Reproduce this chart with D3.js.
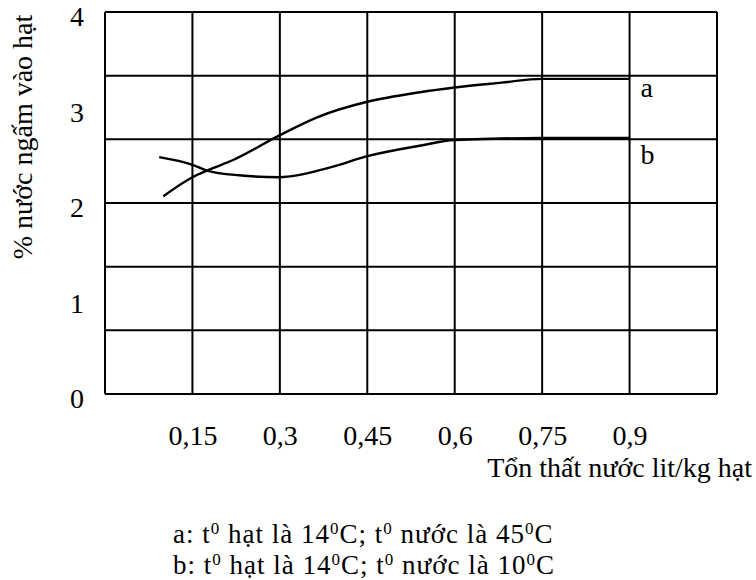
<!DOCTYPE html>
<html>
<head>
<meta charset="utf-8">
<script src="https://cdn.jsdelivr.net/npm/d3@7"></script>
<style>
  html, body { margin: 0; padding: 0; background: #fff; }
  svg { display: block; }
  text { font-family: "Liberation Serif", "Times New Roman", serif; fill: #000; }
</style>
</head>
<body>
<svg id="chart" width="756" height="580"></svg>
<script>
// ---- data ----
const xTicks = [0.15, 0.3, 0.45, 0.6, 0.75, 0.9];
const xTickLabels = ["0,15", "0,3", "0,45", "0,6", "0,75", "0,9"];
const xGrid = [0, 0.15, 0.3, 0.45, 0.6, 0.75, 0.9, 1.05];
const yTicks = [0, 1, 2, 3, 4];
const yGrid = [0, 2/3, 4/3, 2, 8/3, 10/3, 4];

const seriesAx = [0.10, 0.15, 0.175, 0.22, 0.30, 0.365, 0.45, 0.54, 0.60, 0.68, 0.75, 0.90];
const seriesAy = [2.07, 2.27, 2.34, 2.45, 2.71, 2.90, 3.06, 3.16, 3.21, 3.26, 3.30, 3.30];
const seriesBx = [0.093, 0.15, 0.175, 0.23, 0.30, 0.385, 0.45, 0.54, 0.60, 0.75, 0.90];
const seriesBy = [2.48, 2.40, 2.34, 2.29, 2.27, 2.37, 2.49, 2.60, 2.66, 2.68, 2.68];
const seriesNames = ["a", "b"];

const yTitle = "% nước ngấm vào hạt";
const xTitle = "Tổn thất nước lit/kg hạt";
// legend lines: [text, superscript?] pieces
const legendA = [["a: t", 0], ["0", 1], [" hạt là 14", 0], ["0", 1], ["C; t", 0], ["0", 1], [" nước là 45", 0], ["0", 1], ["C", 0]];
const legendB = [["b: t", 0], ["0", 1], [" hạt là 14", 0], ["0", 1], ["C; t", 0], ["0", 1], [" nước là 10", 0], ["0", 1], ["C", 0]];

// ---- layout ----
const svg = d3.select("#chart");
const L = 105, R = 717, T = 12, B = 394;
const FS = "28px";
const x = d3.scaleLinear().domain([0, 1.05]).range([L, R]);
const y = d3.scaleLinear().domain([0, 4]).range([B, T]);

const g = svg.append("g");

// grid lines
g.selectAll("line.v").data(xGrid).enter().append("line")
  .attr("x1", d => x(d)).attr("x2", d => x(d))
  .attr("y1", y(0)).attr("y2", y(4))
  .attr("stroke", "#000").attr("stroke-width", 2);
g.selectAll("line.h").data(yGrid).enter().append("line")
  .attr("x1", x(0)).attr("x2", x(1.05))
  .attr("y1", d => y(d)).attr("y2", d => y(d))
  .attr("stroke", "#000").attr("stroke-width", 2);

// y axis labels
const yAxis = d3.axisLeft(y).tickValues(yTicks).tickSize(0).tickPadding(21).tickFormat(d3.format("d"));
const ya = svg.append("g").attr("transform", `translate(${L},5)`).call(yAxis);
ya.select(".domain").remove();
ya.selectAll("text").style("font-family", "Liberation Serif, serif").style("font-size", FS);

// x axis labels
const xAxis = d3.axisBottom(x).tickValues(xTicks).tickSize(0).tickPadding(31)
  .tickFormat((d, i) => xTickLabels[i]);
const xa = svg.append("g").attr("transform", `translate(0,${B})`).call(xAxis);
xa.select(".domain").remove();
xa.selectAll("text").style("font-family", "Liberation Serif, serif").style("font-size", FS);

// curves
const line = d3.line().x(d => x(d[0])).y(d => y(d[1])).curve(d3.curveMonotoneX);
const dataA = seriesAx.map((v, i) => [v, seriesAy[i]]);
const dataB = seriesBx.map((v, i) => [v, seriesBy[i]]);
[dataA, dataB].forEach(d => {
  g.append("path").datum(d).attr("d", line)
    .attr("fill", "none").attr("stroke", "#000").attr("stroke-width", 2.4);
});

// series labels
[[dataA, seriesNames[0], 18], [dataB, seriesNames[1], 26]].forEach(([d, n, off]) => {
  const last = d[d.length - 1];
  svg.append("text").attr("x", x(last[0]) + 11).attr("y", y(last[1]) + off)
    .style("font-size", FS).text(n);
});

// y title
svg.append("text")
  .attr("transform", `translate(32,137) rotate(-90)`)
  .attr("text-anchor", "middle")
  .style("font-size", FS)
  .text(yTitle);

// x title
svg.append("text").attr("x", 752).attr("y", 477).attr("text-anchor", "end")
  .style("font-size", FS).text(xTitle);

// legend
function legendLine(parts, yy) {
  const t = svg.append("text").attr("x", 173).attr("y", yy)
    .style("font-size", "27px").style("letter-spacing", "1px");
  let sup = false;
  parts.forEach(([s, isSup]) => {
    const ts = t.append("tspan").text(s);
    if (isSup && !sup) { ts.attr("dy", -9).style("font-size", "17px"); sup = true; }
    else if (!isSup && sup) { ts.attr("dy", 9); sup = false; }
  });
}
legendLine(legendA, 543);
legendLine(legendB, 574);
</script>
</body>
</html>
